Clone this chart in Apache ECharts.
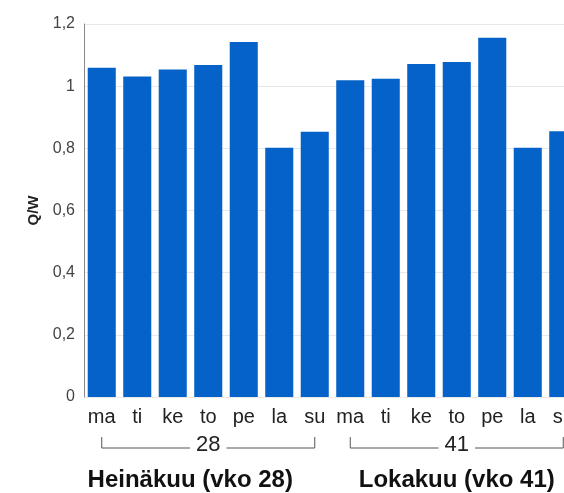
<!DOCTYPE html>
<html>
<head>
<meta charset="utf-8">
<script src="https://cdn.jsdelivr.net/npm/echarts@6/dist/echarts.min.js"></script>
<style>
  html, body { margin: 0; padding: 0; background: #fff; overflow: hidden; }
  /* chart is wider than the window: the last bar gets cut off like in the original */
  #chart { width: 600px; height: 493px; }
</style>
</head>
<body>
<div id="chart"></div>
<script>
const days = ["ma", "ti", "ke", "to", "pe", "la", "su"];
const weeks = ["28", "41"];
const months = ["Heinäkuu (vko 28)", "Lokakuu (vko 41)"];
const qwWeek28 = [1.059, 1.031, 1.054, 1.068, 1.142, 0.802, 0.853];
const qwWeek41 = [1.019, 1.024, 1.071, 1.078, 1.156, 0.802, 0.855];
const yTicks = [0, 0.2, 0.4, 0.6, 0.8, 1, 1.2];

const fontFam = "'Liberation Sans', Arial, sans-serif";
const categories = weeks.map(() => days).flat();
const values = qwWeek28.concat(qwWeek41);

let chart = echarts.init(document.getElementById("chart"));
let option = {
  backgroundColor: "#fff",
  animation: false,
  grid: { left: 84, top: 24, bottom: 96, right: 19 },
  xAxis: {
    type: "category",
    data: categories,
    axisLine: { show: false },
    axisTick: { show: false },
    axisLabel: { color: "#222", fontSize: 20, fontFamily: fontFam, margin: 10, interval: 0 },
  },
  yAxis: {
    type: "value",
    min: yTicks[0],
    max: yTicks[yTicks.length - 1],
    interval: 0.2,
    name: "Q/W",
    nameLocation: "middle",
    nameGap: 41,
    nameRotate: 90,
    nameTextStyle: { color: "#222", fontSize: 15, fontWeight: "bold", fontFamily: fontFam },
    axisLine: { show: true, lineStyle: { color: "#888", width: 1 } },
    axisTick: { show: false },
    splitLine: { lineStyle: { color: "#e8e8e8" } },
    axisLabel: {
      color: "#444",
      fontSize: 16,
      fontFamily: fontFam,
      margin: 9,
      formatter: (v) => String(Math.round(v * 10) / 10).replace(".", ","),
    },
  },
  series: [
    {
      type: "bar",
      data: values,
      barWidth: "79%",
      itemStyle: { color: "#0562c9" },
    },
  ],
};
chart.setOption(option, true);

// brackets + week numbers + month labels under the axis
const y0 = chart.convertToPixel({ yAxisIndex: 0 }, 0);
const lineY = y0 + 51;
let graphics = [];
weeks.forEach((wk, i) => {
  const x1 = chart.convertToPixel({ xAxisIndex: 0 }, i * days.length);
  const x2 = chart.convertToPixel({ xAxisIndex: 0 }, i * days.length + days.length - 1);
  const mid = (x1 + x2) / 2;
  const ls = { stroke: "#555", lineWidth: 1 };
  graphics.push(
    { type: "polyline", shape: { points: [[x1, lineY - 11], [x1, lineY], [x2, lineY], [x2, lineY - 11]] }, style: ls },
    {
      type: "text",
      x: mid,
      y: lineY - 3,
      style: {
        text: wk,
        fill: "#222",
        font: "22px " + fontFam,
        align: "center",
        verticalAlign: "middle",
        backgroundColor: "#fff",
        padding: [0, 6],
      },
    },
    {
      type: "text",
      x: mid + (i === 0 ? -18 : 0),
      y: lineY + 32,
      style: {
        text: months[i],
        fill: "#111",
        font: "bold 24px " + fontFam,
        align: "center",
        verticalAlign: "middle",
      },
    }
  );
});
chart.setOption({ graphic: graphics });
</script>
</body>
</html>
